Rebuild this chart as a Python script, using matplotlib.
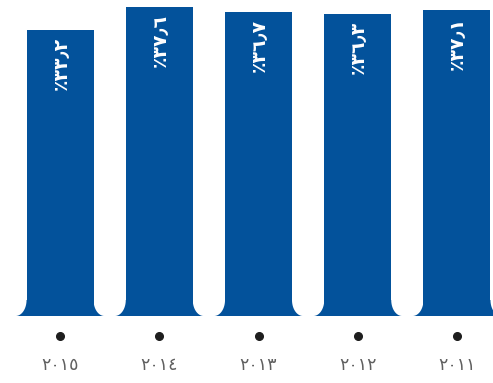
import numpy as np
import matplotlib
matplotlib.use("Agg")
import matplotlib.pyplot as plt
from matplotlib.patches import Polygon

# data (left to right, as in the picture)
years = ["٢٠١٥", "٢٠١٤", "٢٠١٣", "٢٠١٢", "٢٠١١"]
values = [33.2, 37.6, 36.7, 36.3, 37.1]

base = -21.5          # hidden baseline of the infographic bars
bar_color = "#03529b"
bar_w = 0.675

ar_digits = str.maketrans("0123456789.", "٠١٢٣٤٥٦٧٨٩٫")


def label_for(v):
    # rotated text reads bottom-to-top, percent sign shown on the left
    return "٪" + ("%.1f" % v).translate(ar_digits)


fig = plt.figure(figsize=(4.93, 3.83), dpi=100)
ax = fig.add_axes([0, 67 / 383, 1, 316 / 383])

x = np.arange(len(years))
vals = np.array(values)
ax.bar(x, vals - base, bottom=base, width=bar_w, color=bar_color, linewidth=0)

# flared feet at the bottom of every bar
fr_w, fr_h = 0.11, 3.06
t = np.linspace(0, np.pi / 2, 30)
for xi in x:
    xl = xi - bar_w / 2
    xr = xi + bar_w / 2
    left = np.column_stack([xl - fr_w + fr_w * np.cos(t), base + fr_h - fr_h * np.sin(t)])
    right = np.column_stack([xr + fr_w - fr_w * np.cos(t), base + fr_h - fr_h * np.sin(t)])
    pts = np.vstack([left, right[::-1]])
    ax.add_patch(Polygon(pts, closed=True, facecolor=bar_color, edgecolor="none"))

for xi, v in zip(x, values):
    ax.annotate(label_for(v), xy=(xi, v), xytext=(0, -5), textcoords="offset points",
                rotation=90, ha="center", va="top", color="white",
                fontsize=13.5, fontweight="bold")

trans = ax.get_xaxis_transform()
ax.plot(x, [-0.063] * len(x), "o", color="#1e1e1e", markersize=5.5,
        transform=trans, clip_on=False)
for xi, yr in zip(x, years):
    ax.text(xi, -0.155, yr, transform=trans, ha="center", va="center",
            fontsize=12.5, color="#606060")

ax.set_xlim(-0.605, 4.363)
ax.set_ylim(base, 38.95)
ax.axis("off")

fig.savefig("out.png", dpi=100)
